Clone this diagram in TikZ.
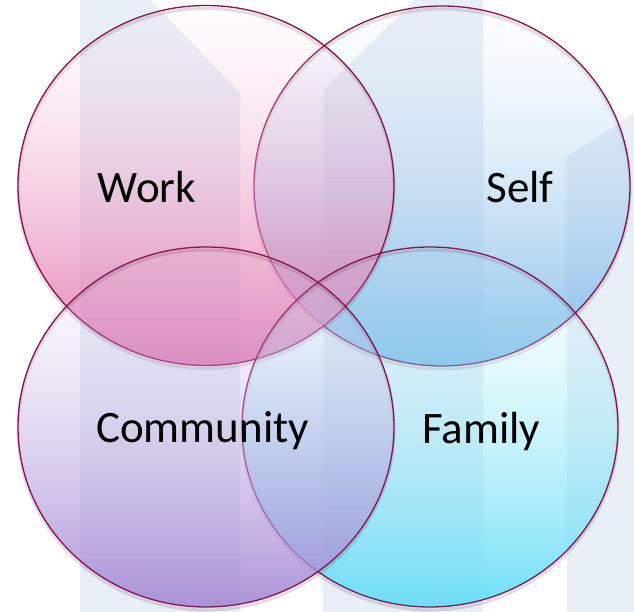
\documentclass[tikz,border=0pt]{standalone}
\usepackage{fontspec}
\setmainfont{Carlito}
\usetikzlibrary{shapes.geometric,fadings}
\definecolor{rim}{RGB}{140,16,80}
\definecolor{band}{RGB}{232,238,246}
\definecolor{workC}{RGB}{226,110,170}
\definecolor{selfC}{RGB}{120,180,230}
\definecolor{commC}{RGB}{164,136,212}
\definecolor{famC}{RGB}{96,220,245}
\tikzfading[name=vennfade, top color=transparent!97, middle color=transparent!45, bottom color=transparent!10]
\begin{document}
\begin{tikzpicture}[x=1pt,y=-1pt,
  venn/.style={ellipse, minimum width=376pt, minimum height=360pt, inner sep=0pt, outer sep=0pt,
    draw=rim, line width=1.3pt},
  vennfill/.style={top color=#1!35!white, bottom color=#1, path fading=vennfade},
  ring/.style={draw=black, draw opacity=0.12, line width=3pt},
  lbl/.style={font=\fontsize{45}{54}\selectfont, anchor=base, text=black, inner sep=0pt}]
\useasboundingbox (0,0) rectangle (634,612);
\fill[white] (0,0) rectangle (634,612);
% background bands
\fill[band] (80,0) -- (150,0) -- (240,93) -- (240,612) -- (80,612) -- cycle;
\fill[band] (323,90) -- (415,0) -- (483,0) -- (483,612) -- (323,612) -- cycle;
\fill[band] (567,157) -- (634,113) -- (634,612) -- (567,612) -- cycle;
% Self
\draw[ring] (442,189) ellipse [x radius=188pt, y radius=180pt];
\path[vennfill=selfC] (442,186) ellipse [x radius=188pt, y radius=180pt];
\node[venn] (self) at (442,186) {};
% Work
\draw[ring] (206,188.5) ellipse [x radius=188pt, y radius=180pt];
\path[vennfill=workC] (206,185.5) ellipse [x radius=188pt, y radius=180pt];
\node[venn] (work) at (206,185.5) {};
% Family
\draw[ring] (430,430) ellipse [x radius=188pt, y radius=180pt];
\path[vennfill=famC] (430,427) ellipse [x radius=188pt, y radius=180pt];
\node[venn] (family) at (430,427) {};
% Community
\draw[ring] (206,430) ellipse [x radius=188pt, y radius=180pt];
\path[vennfill=commC] (206,427) ellipse [x radius=188pt, y radius=180pt];
\node[venn] (community) at (206,427) {};
% labels
\node[lbl] (tWork) at (147,203) {Work};
\node[lbl] (tSelf) at (520,203) {Self};
\node[lbl] (tComm) at (202.5,442) {Community};
\node[lbl] (tFam) at (481,443) {Family};
\end{tikzpicture}
\end{document}
